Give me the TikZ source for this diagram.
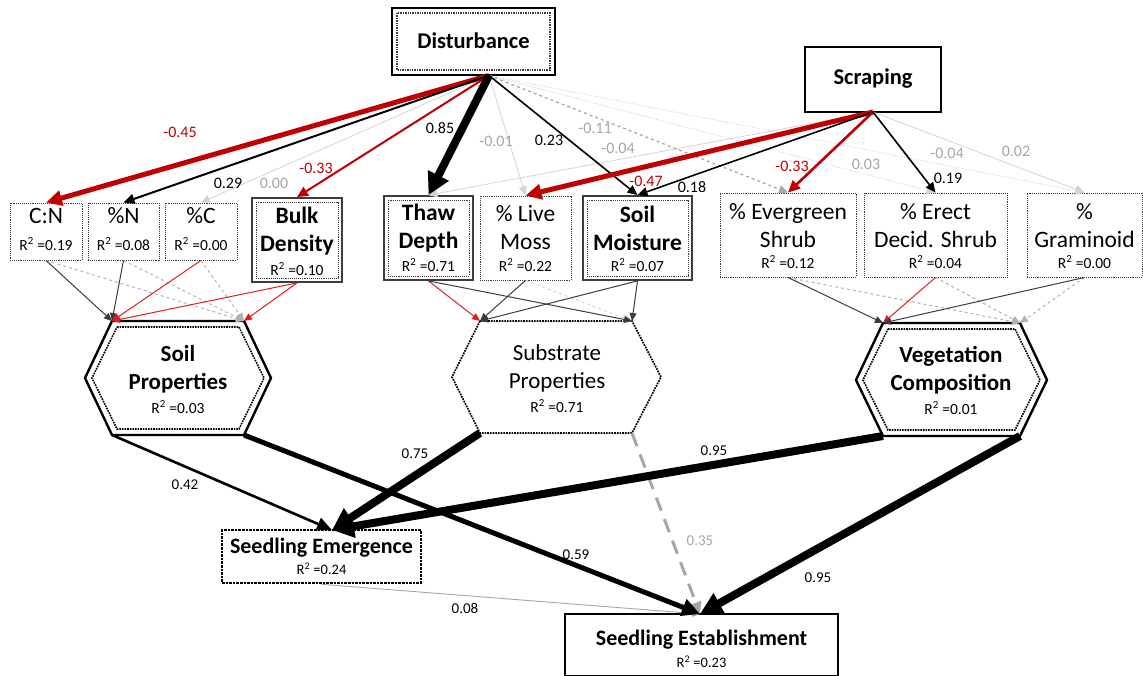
\documentclass[tikz,border=0pt]{standalone}
\usepackage{fontspec}
\setmainfont{Carlito}
\usetikzlibrary{arrows.meta}
\definecolor{cred}{RGB}{192,0,0}
\definecolor{tred}{RGB}{225,30,30}
\definecolor{labgray}{RGB}{166,166,166}
\definecolor{lgray}{RGB}{212,212,212}
\definecolor{mgray}{RGB}{178,178,178}
\definecolor{dgray}{RGB}{60,60,60}
\newcommand\rsq[1]{R\textsuperscript{2} =#1}
\begin{document}
\begin{tikzpicture}[x=1pt,y=-1pt,
  dotbox/.style={draw=dgray, densely dotted, line width=0.9pt, inner sep=0pt},
  solbox/.style={draw=dgray, line width=1.8pt, inner sep=0pt},
  inbox/.style={draw=dgray, densely dotted, line width=0.9pt},
  big/.style={font=\fontsize{23.5}{28}\selectfont, align=center, inner sep=0pt},
  bigb/.style={font=\fontsize{23.5}{28}\selectfont\bfseries, align=center, inner sep=0pt},
  hexb/.style={font=\fontsize{23}{28}\selectfont\bfseries, align=center, inner sep=0pt},
  rs/.style={font=\fontsize{15.5}{18}\selectfont, inner sep=0pt},
  lab/.style={font=\fontsize{16}{19}\selectfont, inner sep=0pt},
  labb/.style={font=\fontsize{15}{18}\selectfont, inner sep=0pt},
  thin/.style={line width=1pt, -{Triangle[length=8pt,width=7pt]}},
  ebig/.style={line width=8pt, -{Triangle[length=22pt,width=22pt]}},
  ered/.style={draw=cred, line width=5pt, -{Triangle[length=16pt,width=15pt]}},
  emid/.style={line width=2pt, -{Triangle[length=11pt,width=10pt]}},
  elight/.style={draw=lgray, line width=0.8pt, -{Triangle[length=9pt,width=8pt]}},
  hexo/.style={draw=black, line width=2.4pt, line join=miter},
  hexi/.style={draw=black, densely dotted, line width=1.6pt}
]
\useasboundingbox (0,0) rectangle (1143,676);

% ---------- top exogenous nodes ----------
\node[draw=black, line width=2.4pt, minimum width=163pt, minimum height=67pt, inner sep=0pt] (dist) at (473.5,41.5) {};
\draw[inbox, line width=1.4pt] (397,13) rectangle (550,70);
\node[font=\fontsize{22.5}{27}\selectfont\bfseries, inner sep=0pt] (distt) at (473.5,41) {Disturbance};
\node[draw=black, line width=2.4pt, minimum width=136pt, minimum height=65pt, inner sep=0pt] (scr) at (873,79.5) {};
\node[font=\fontsize{22.5}{27}\selectfont\bfseries, inner sep=0pt] (scrt) at (873,79) {Scraping};
\coordinate (ds) at (489,75.5);
\coordinate (ss) at (873,112);

% ---------- mediator boxes ----------
\node[dotbox, minimum width=72pt, minimum height=57pt] (cn) at (46,231.5) {};
\node[big] (cnt) at (46,216) {C:N};
\node[rs] (cnr) at (46,244) {\rsq{0.19}};
\node[dotbox, minimum width=71pt, minimum height=57pt] (pn) at (123.5,231.5) {};
\node[big] (pnt) at (123.5,216) {\%N};
\node[rs] (pnr) at (123.5,244) {\rsq{0.08}};
\node[dotbox, minimum width=72pt, minimum height=57pt] (pc) at (201,231.5) {};
\node[big] (pct) at (201,216) {\%C};
\node[rs] (pcr) at (201,244) {\rsq{0.00}};
\node[solbox, minimum width=90pt, minimum height=84pt] (bd) at (297,240) {};
\draw[inbox] (256,202) rectangle (338,278);
\node[bigb] (bdt) at (297,231) {Bulk\\Density};
\node[rs] (bdr) at (297,269) {\rsq{0.10}};
\node[solbox, minimum width=89pt, minimum height=84pt] (td) at (428.5,238) {};
\draw[inbox] (388,200) rectangle (469,276);
\node[bigb] (tdt) at (428.5,228) {Thaw\\Depth};
\node[rs] (tdr) at (428.5,265) {\rsq{0.71}};
\node[dotbox, minimum width=91pt, minimum height=84pt] (lm) at (525.5,238) {};
\node[big] (lmt) at (525.5,228) {\% Live\\Moss};
\node[rs] (lmr) at (525.5,265) {\rsq{0.22}};
\node[solbox, minimum width=109pt, minimum height=84pt] (sm) at (637.5,238) {};
\draw[inbox] (587,200) rectangle (688,276);
\node[bigb] (smt) at (637.5,228) {Soil\\Moisture};
\node[rs] (smr) at (637.5,265) {\rsq{0.07}};
\node[dotbox, minimum width=136pt, minimum height=84pt] (ev) at (788,235) {};
\node[big] (evt) at (788,226) {\% Evergreen\\Shrub};
\node[rs] (evr) at (788,262) {\rsq{0.12}};
\node[dotbox, minimum width=143pt, minimum height=84pt] (er) at (935.5,235) {};
\node[big] (ert) at (935.5,226) {\% Erect\\Decid. Shrub};
\node[rs] (err) at (935.5,262) {\rsq{0.04}};
\node[dotbox, minimum width=115pt, minimum height=84pt] (gr) at (1084.5,235) {};
\node[big] (grt) at (1084.5,226) {\%\\Graminoid};
\node[rs] (grr) at (1084.5,262) {\rsq{0.00}};

% ---------- hexagons ----------
\coordinate (sTL) at (112,321); \coordinate (sTR) at (244,321);
\coordinate (sR) at (271,378); \coordinate (sBR) at (244,435);
\coordinate (sBL) at (112,435); \coordinate (sL) at (85,378);
\draw[hexo] (sTL) -- (sTR) -- (sR) -- (sBR) -- (sBL) -- (sL) -- cycle;
\draw[hexi] (117,327) -- (239,327) -- (264,378) -- (239,429) -- (117,429) -- (92,378) -- cycle;
\node[hexb] (soilt) at (178,369) {Soil\\Properties};
\node[rs] (soilr) at (178,407) {\rsq{0.03}};

\coordinate (bTL) at (480,321); \coordinate (bTR) at (632,321);
\coordinate (bR) at (661,377); \coordinate (bBR) at (632,433);
\coordinate (bBL) at (480,433); \coordinate (bL) at (452,377);
\draw[draw=black, densely dotted, line width=1.7pt] (bTL) -- (bTR) -- (bR) -- (bBR) -- (bBL) -- (bL) -- cycle;
\node[font=\fontsize{23}{28}\selectfont, align=center, inner sep=0pt] (subt) at (557,368) {Substrate\\Properties};
\node[rs] (subr) at (557,406) {\rsq{0.71}};

\coordinate (vTL) at (883,323); \coordinate (vTR) at (1020,323);
\coordinate (vR) at (1047,380); \coordinate (vBR) at (1020,436);
\coordinate (vBL) at (883,436); \coordinate (vL) at (856,380);
\draw[hexo] (vTL) -- (vTR) -- (vR) -- (vBR) -- (vBL) -- (vL) -- cycle;
\draw[hexi] (888,329) -- (1015,329) -- (1040,380) -- (1015,430) -- (888,430) -- (863,380) -- cycle;
\node[hexb] (vegt) at (951,370) {Vegetation\\Composition};
\node[rs] (vegr) at (951,408) {\rsq{0.01}};

% ---------- outcome boxes ----------
\node[draw=black, densely dotted, line width=2.6pt, minimum width=199pt, minimum height=53pt, inner sep=0pt] (em) at (321.5,556.5) {};
\node[font=\fontsize{22}{27}\selectfont\bfseries, inner sep=0pt] (emt) at (321.5,548) {Seedling Emergence};
\node[font=\fontsize{14.5}{17}\selectfont, inner sep=0pt] (emr) at (321.5,569) {\rsq{0.24}};
\node[draw=black, line width=2.4pt, minimum width=273pt, minimum height=62pt, inner sep=0pt] (est) at (701.5,645) {};
\node[font=\fontsize{22}{27}\selectfont\bfseries, inner sep=0pt] (estt) at (701.5,640) {Seedling Establishment};
\node[font=\fontsize{14.5}{17}\selectfont, inner sep=0pt] (estr) at (701.5,662) {\rsq{0.23}};
\coordinate (emtop) at (332,530);
\coordinate (esttop) at (700,614);

% ---------- exogenous -> mediators ----------
\draw[elight] (ds) -- (pc.north);
\draw[elight] (ds) -- (lm.north);
\draw[elight, densely dotted] (ds) -- (er.north);
\draw[elight, densely dotted] (ds) -- (gr.north);
\draw[elight] (ss) -- (td.north);
\draw[elight] (ss) -- (gr.north);
\draw[draw=labgray, dashed, line width=1.2pt, -{Triangle[length=9pt,width=8pt]}] (ds) -- (ev.north);
\draw[ered] (ds) -- (cn.north);
\draw[emid, draw=black] (ds) -- (pn.north);
\draw[emid, draw=cred] (ds) -- (bd.north);
\draw[ebig, draw=black] (ds) -- (td.north);
\draw[draw=black, line width=1.6pt, -{Triangle[length=10pt,width=9pt]}] (ds) -- (sm.north);
\draw[ered] (ss) -- (lm.north);
\draw[draw=black, line width=1.6pt, -{Triangle[length=10pt,width=9pt]}] (ss) -- (sm.north);
\draw[draw=cred, line width=2.6pt, -{Triangle[length=12pt,width=11pt]}] (ss) -- (ev.north);
\draw[draw=black, line width=1.6pt, -{Triangle[length=10pt,width=9pt]}] (ss) -- (er.north);

% labels
\node[lab, text=cred] (l1) at (180,132) {-0.45};
\node[lab] (l2) at (228,183) {0.29};
\node[lab, text=labgray] (l3) at (274,183) {0.00};
\node[lab, text=cred] (l4) at (316,168) {-0.33};
\node[lab] (l5) at (440,128) {0.85};
\node[lab, text=labgray] (l6) at (496,141) {-0.01};
\node[lab] (l7) at (549,140) {0.23};
\node[lab, text=labgray] (l8) at (595,128) {-0.11};
\node[lab, text=labgray] (l9) at (618,148) {-0.04};
\node[lab, text=cred] (l10) at (646,181) {-0.47};
\node[lab] (l11) at (692,187) {0.18};
\node[lab, text=cred] (l12) at (792,166) {-0.33};
\node[lab, text=labgray] (l13) at (866,164) {0.03};
\node[lab, text=labgray] (l14) at (947,153) {-0.04};
\node[lab, text=labgray] (l15) at (1016,151) {0.02};
\node[lab] (l16) at (948,178) {0.19};

% ---------- mediators -> latent ----------
\begin{scope}[thin]
\draw[draw=mgray, dashed] (cn.south) -- (sTR);
\draw[draw=mgray, dashed] (pn.south) -- (sTR);
\draw[draw=mgray, dashed] (pc.south) -- (sTR);
\draw[draw=lgray, dashed] (lm.south) -- (bTR);
\draw[draw=mgray, dashed] (ev.south) -- (vTR);
\draw[draw=mgray, dashed] (er.south) -- (vTR);
\draw[draw=mgray, dashed] (gr.south) -- (vTR);
\draw[draw=dgray] (cn.south) -- (sTL);
\draw[draw=dgray] (pn.south) -- (sTL);
\draw[draw=tred] (pc.south) -- (sTL);
\draw[draw=tred] (bd.south) -- (sTL);
\draw[draw=tred] (bd.south) -- (sTR);
\draw[draw=tred] (td.south) -- (bTL);
\draw[draw=dgray] (td.south) -- (bTR);
\draw[draw=dgray] (lm.south) -- (bTL);
\draw[draw=dgray] (sm.south) -- (bTL);
\draw[draw=dgray] (sm.south) -- (bTR);
\draw[draw=dgray] (ev.south) -- (vTL);
\draw[draw=tred] (er.south) -- (vTL);
\draw[draw=dgray] (gr.south) -- (vTL);
\end{scope}

% ---------- latent -> outcomes ----------
\draw[draw=labgray, line width=0.9pt, -{Triangle[length=8pt,width=7pt]}] (em.south) -- (esttop);
\draw[draw=labgray, line width=3pt, dash pattern=on 14pt off 9pt, -{Triangle[length=12pt,width=11pt]}] (bBR) -- (esttop);
\draw[draw=black, line width=2.6pt, -{Triangle[length=15pt,width=13pt]}] (sBL) -- (emtop);
\draw[draw=black, line width=5pt, -{Triangle[length=18pt,width=17pt]}] (sBR) -- (esttop);
\draw[ebig, draw=black] (bBL) -- (emtop);
\draw[ebig, draw=black] (vBL) -- (emtop);
\draw[ebig, draw=black] (vBR) -- (esttop);

\node[labb] (m1) at (185,485) {0.42};
\node[labb] (m2) at (415,454) {0.75};
\node[labb] (m3) at (714,451) {0.95};
\node[labb] (m4) at (576,555) {0.59};
\node[labb, text=labgray] (m5) at (700,541) {0.35};
\node[labb] (m6) at (818,578) {0.95};
\node[labb] (m7) at (465,608) {0.08};
\end{tikzpicture}
\end{document}
